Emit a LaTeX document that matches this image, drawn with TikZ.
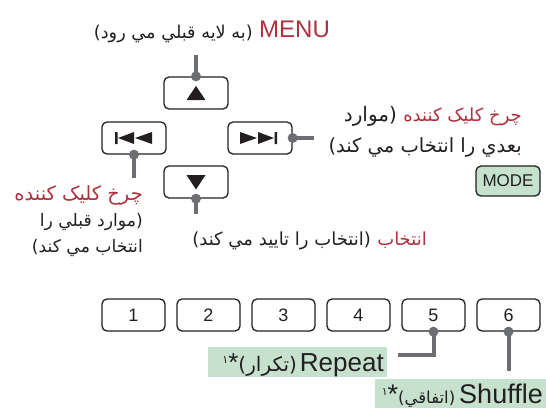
\documentclass[tikz,border=0pt]{standalone}
\usepackage{fontspec}
\setmainfont{Liberation Sans}
\newfontfamily\fa[Script=Arabic]{DejaVu Sans}
\TeXXeTstate=1
\definecolor{accent}{RGB}{174,50,62}
\definecolor{connc}{RGB}{109,110,113}
\definecolor{lblfill}{RGB}{198,225,206}
\definecolor{edgec}{RGB}{35,31,32}
\newcommand{\fasz}[1]{\fa\fontsize{#1}{#1}\selectfont}
\tikzset{
 ctrlbtn/.style={draw=edgec, line width=1.3pt, rounded corners=5pt, minimum width=64pt, minimum height=32pt, inner sep=0pt},
 numbtn/.style={ctrlbtn, minimum width=63pt, font=\fontsize{18}{18}\selectfont, text=edgec},
 wire/.style={draw=connc, line width=4pt},
 knob/.style={fill=connc},
 fatext/.style={text=edgec, inner sep=0pt, anchor=base east},
 redtext/.style={fatext, text=accent},
 tagbox/.style={fill=lblfill, inner sep=0pt, draw=none},
 tagtext/.style={text=edgec, inner sep=0pt, anchor=base east},
 glyph/.style={fill=edgec}
}
\begin{document}
\begin{tikzpicture}[x=1pt,y=-1pt]
\useasboundingbox (0,0) rectangle (546,408);
% control buttons
\node[ctrlbtn] (up) at (196,93) {};
\node[ctrlbtn] (prev) at (134,138) {};
\node[ctrlbtn] (next) at (260,138) {};
\node[ctrlbtn] (down) at (196,182) {};
\node[ctrlbtn, fill=lblfill, minimum height=30pt, font=\fontsize{17}{17}\selectfont, text=edgec] (mode) at (508,181) {MODE};
% glyphs
\fill[glyph, shift={(up.center)}] (-9.5,7) -- (9.5,7) -- (0,-7) -- cycle;
\fill[glyph, shift={(down.center)}] (-9.5,-7) -- (9.5,-7) -- (0,7.5) -- cycle;
\fill[glyph, shift={(prev.center)}] (-19,-6) rectangle (-16.5,6)
  (-16,0) -- (0,-6) -- (0,6) -- cycle
  (1,0) -- (18,-6) -- (18,6) -- cycle;
\fill[glyph, shift={(next.center)}] (17,-6) rectangle (14.5,6)
  (14,0) -- (-2,-6) -- (-2,6) -- cycle
  (-3,0) -- (-20,-6) -- (-20,6) -- cycle;
% number buttons
\foreach \i in {1,...,6} \node[numbtn] (b\i) at (58.5+75*\i,315) {\i};
% MENU label
\node[inner sep=0pt, anchor=base west, text=accent, font=\fontsize{24}{24}\selectfont] (menutxt) at (259,37) {MENU};
\node[fatext, font=\fasz{17.7}] (menufa) at (253,38) {\beginR(به لايه قبلي مي رود)\endR};
% next label
\node[redtext, font=\fasz{18}] (nextred) at (522,121) {\beginR چرخ کليک کننده\endR};
\node[fatext, font=\fasz{20}] (nexttxt1) at ([xshift=-6pt]nextred.base west) {\beginR(موارد\endR};
\node[fatext, font=\fasz{19.5}] (nexttxt2) at (522,152) {\beginR بعدي را انتخاب مي کند)\endR};
% prev label
\node[redtext, font=\fasz{19.5}] (prevred) at (143,200) {\beginR چرخ کليک کننده\endR};
\node[fatext, font=\fasz{17.2}] (prevtxt2) at (143,226) {\beginR(موارد قبلي را\endR};
\node[fatext, font=\fasz{17.2}] (prevtxt3) at (143,252) {\beginR انتخاب مي کند)\endR};
% down label
\node[redtext, font=\fasz{18}] (downred) at (427,245) {\beginR انتخاب\endR};
\node[fatext, font=\fasz{18}] (downtxt) at ([xshift=-6pt]downred.base west) {\beginR(انتخاب را تاييد مي کند)\endR};
% repeat / shuffle labels
\node[tagbox, minimum width=179pt, minimum height=30pt] (repbox) at (297.5,362) {};
\node[tagbox, minimum width=171pt, minimum height=29pt] (shufbox) at (460.5,393.5) {};
\node[tagtext, font=\fontsize{26}{26}\selectfont] (reptxt) at (384,371) {\raisebox{8pt}{\fasz{11}۱}*{\fasz{20}\beginR(تکرار)\endR}\hspace{3pt}Repeat};
\node[tagtext, font=\fontsize{27}{27}\selectfont] (shuftxt) at (543,403) {\raisebox{8pt}{\fasz{11}۱}*{\fasz{16.5}\beginR(اتفاقي)\endR}\hspace{4pt}Shuffle};
% connectors
\coordinate (menuend) at (196,55);
\coordinate (prevend) at (134,178);
\coordinate (nextend) at (314,138);
\coordinate (downend) at (196,214);
\coordinate (b5bend) at (433.5,355);
\coordinate (b5end) at (398,355);
\coordinate (b6end) at (508.5,371);
\draw[wire] (up.north) -- (menuend);
\draw[wire] (prev.south) -- (prevend);
\draw[wire] (next.east) -- (nextend);
\draw[wire] (down.south) -- (downend);
\draw[wire] (b5.south) -- (b5bend) -- (b5end);
\draw[wire] (b6.south) -- (b6end);
\foreach \n/\a in {up/north, prev/south, next/east, down/south, b5/south, b6/south}
  \fill[knob] (\n.\a) circle (5);
\end{tikzpicture}
\end{document}
